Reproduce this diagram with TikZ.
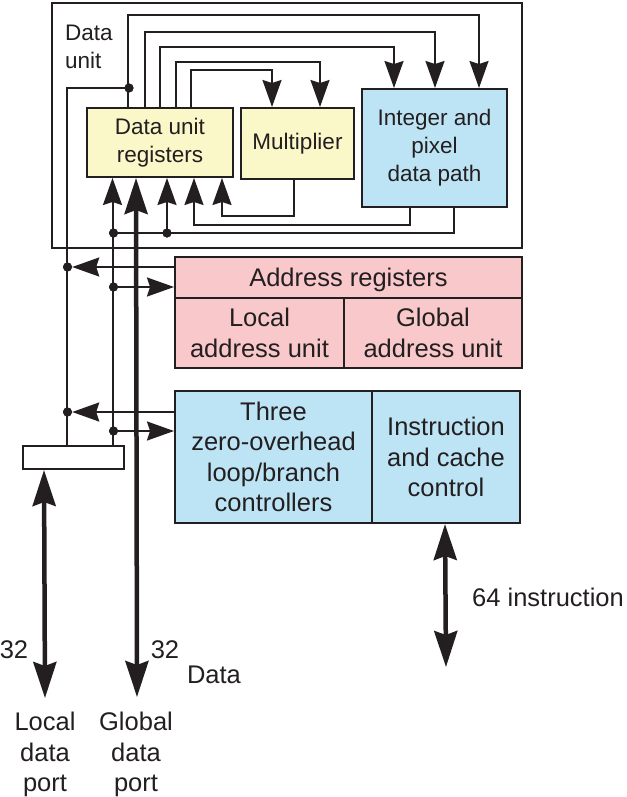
\documentclass[tikz,border=0pt]{standalone}
\usepackage{fontspec}
\setmainfont{Liberation Sans}
\usetikzlibrary{arrows.meta}
\definecolor{ink}{HTML}{231F20}
\definecolor{yel}{HTML}{FAF7C8}
\definecolor{pnk}{HTML}{F8C8CB}
\definecolor{blu}{HTML}{BDE4F5}
\begin{document}
\begin{tikzpicture}[x=1pt,y=-1pt,
  ln/.style={draw=ink, line width=2pt},
  arr/.style={ln, -{Stealth[length=27pt,width=19pt,inset=3pt]}},
  bigarr/.style={draw=ink, line width=4.5pt, {Stealth[length=36pt,width=23pt,inset=4pt]}-{Stealth[length=36pt,width=23pt,inset=4pt]}},
  box/.style={draw=ink, line width=2pt, inner sep=0pt, align=center, text=ink},
  dufont/.style={font=\fontsize{22.5}{28}\selectfont},
  mfont/.style={font=\fontsize{25.5}{30.5}\selectfont},
  jdot/.style={circle, fill=ink, minimum size=9pt, inner sep=0pt},
  lbl/.style={text=ink, inner sep=0pt, align=center, mfont}
]
\useasboundingbox (0,0) rectangle (626,797);
% Data unit frame
\node[box, fill=white, line width=1.8pt, minimum width=470pt, minimum height=245pt] (du) at (287,125.5) {};
\node[anchor=north west, inner sep=0pt, align=left, dufont, text=ink] (dul) at (65,25) {Data\\unit};
% boxes
\node[box, fill=yel, minimum width=146pt, minimum height=69pt, dufont] (reg) at (160,142.5) {Data unit\\registers};
\node[box, fill=yel, minimum width=113pt, minimum height=71pt, dufont] (mul) at (297.5,143.5) {Multiplier};
\node[box, fill=blu, minimum width=145pt, minimum height=118pt, dufont] (ipd) at (434.5,148) {Integer and\\pixel\\data path};
\node[box, fill=pnk, minimum width=347pt, minimum height=41pt, mfont, text depth=0pt] (areg) at (348.5,277.5) {Address registers};
\node[box, fill=pnk, minimum width=169pt, minimum height=70pt, mfont] (lau) at (259.5,333) {Local\\address unit};
\node[box, fill=pnk, minimum width=178pt, minimum height=70pt, mfont] (gau) at (433,333) {Global\\address unit};
\node[box, fill=blu, minimum width=197pt, minimum height=132pt, mfont] (lbc) at (273.5,457) {Three\\zero-overhead\\loop/branch\\controllers};
\node[box, fill=blu, minimum width=148pt, minimum height=132pt, mfont] (icc) at (446,457) {Instruction\\and cache\\control};
\node[box, fill=white, minimum width=101pt, minimum height=23pt] (port) at (73.5,457.5) {};
% junction dots
\node[jdot] (d1) at (129,88) {};
\node[jdot] (d2) at (113.5,233) {};
\node[jdot] (d3) at (167,233) {};
\node[jdot] (d4) at (67.5,267) {};
\node[jdot] (d5) at (113.5,287) {};
\node[jdot] (d6) at (67.5,412) {};
\node[jdot] (d7) at (113.5,431) {};
\coordinate (gend) at (137,697);
\coordinate (lend) at (45,698);
\coordinate (iend) at (446,667);
% top connectors
\draw[arr] ([xshift=42pt]reg.north west) -- ++(0,-92) -| ([xshift=118pt]ipd.north west);
\draw[arr] ([xshift=59pt]reg.north west) -- ++(0,-75) -| ([xshift=74pt]ipd.north west);
\draw[arr] ([xshift=74pt]reg.north west) -- ++(0,-60) -| ([xshift=33pt]ipd.north west);
\draw[arr] ([xshift=90pt]reg.north west) -- ++(0,-45) -| ([xshift=80pt]mul.north west);
\draw[arr] ([xshift=105pt]reg.north west) -- ++(0,-37) -| ([xshift=32pt]mul.north west);
\draw[ln] (d1.center) -| ([xshift=44.5pt]port.north west);
% bottom connectors
\draw[arr] ([xshift=90.5pt]port.north west) -- ([xshift=26.5pt]reg.south west);
\draw[ln] ([xshift=93pt]ipd.south west) |- (d2.center);
\draw[arr] (d3.center) -- (d3 |- reg.south);
\draw[arr] ([xshift=49pt]ipd.south west) -- ++(0,17) -| ([xshift=108pt]reg.south west);
\draw[arr] ([xshift=54pt]mul.south west) -- ++(0,36) -| ([xshift=136pt]reg.south west);
\draw[bigarr] (gend) -- ([xshift=50pt]reg.south west);
% address / controller arrows
\draw[arr] (areg.west |- d4) -- (d4);
\draw[arr] (d5) -- (d5 -| areg.west);
\draw[arr] (lbc.west |- d6) -- (d6);
\draw[arr] (d7) -- (d7 -| lbc.west);
% ports
\draw[bigarr] ([xshift=22pt]port.south west) -- (lend);
\draw[bigarr] ([xshift=74pt]icc.south west) -- (iend);
% redraw dots on top
\foreach \d in {d1,d2,d3,d4,d5,d6,d7} \fill[ink] (\d) circle (4.5pt);
% labels
\node[lbl] (n32a) at (14,650) {32};
\node[lbl] (n32b) at (165,650) {32};
\node[lbl] (ndata) at (214,675) {Data};
\node[lbl, anchor=north] (lport) at (45,712) {Local\\data\\port};
\node[lbl, anchor=north] (gport) at (136,712) {Global\\data\\port};
\node[lbl, anchor=west] (instr) at (472,597) {64 instruction};
\end{tikzpicture}
\end{document}
